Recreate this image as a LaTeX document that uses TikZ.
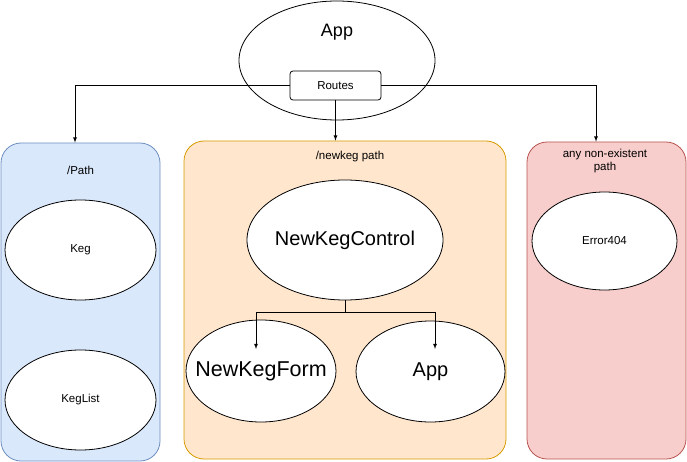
\documentclass[tikz,border=0pt]{standalone}
\usepackage{fontspec}
\setmainfont{Liberation Sans}
\usetikzlibrary{arrows,shapes.geometric,positioning}

\definecolor{blueFill}{HTML}{DAE8FC}
\definecolor{blueLine}{HTML}{6C8EBF}
\definecolor{orangeFill}{HTML}{FFE6CC}
\definecolor{orangeLine}{HTML}{D79B00}
\definecolor{redFill}{HTML}{F8CECC}
\definecolor{redLine}{HTML}{B85450}

\tikzset{
  blob/.style={draw, ellipse, fill=white, inner sep=0pt},
  panel/.style={rounded corners=20pt, inner sep=0pt},
  small/.style={font=\fontsize{11.5}{13.5}\selectfont},
  big/.style={font=\fontsize{20}{24}\selectfont}
}

\begin{document}
\begin{tikzpicture}[x=1pt,y=-1pt,line width=0.8pt]
\useasboundingbox (0,0) rectangle (687,462);

% the three route panels
\node[panel, draw=blueLine, fill=blueFill, minimum width=159, minimum height=318] (pathbox) at (80.5,302) {};
\node[panel, draw=orangeLine, fill=orangeFill, minimum width=322, minimum height=318] (newkegbox) at (345,300) {};
\node[panel, draw=redLine, fill=redFill, minimum width=159, minimum height=317] (errbox) at (606.5,300.5) {};

\node[small] (pathtitle) at (80.5,170) {/Path};
\node[small] (newkegtitle) at (350,157) {/newkeg path};
\node[small, align=center] (errtitle) at (605,161) {any non-existent\\path};

% App with its Routes
\node[blob, minimum width=196, minimum height=119] (app) at (337,60.5) {};
\node[font=\fontsize{18}{22}\selectfont] (apptitle) at (337,32) {App};
\node[draw, fill=white, rounded corners=3pt, minimum width=91, minimum height=29, small] (routes) at (335.5,85.5) {Routes};

\draw[-latex] (routes.west) -| ([xshift=-5.5pt]pathbox.north);
\draw[-latex] (routes.east) -| ([xshift=-10.5pt]errbox.north);
\draw[-latex] (routes.south) -- (routes.south |- newkegbox.north);

% left column
\node[blob, small, minimum width=151, minimum height=100] (keg) at (80.5,250) {Keg};
\node[blob, small, minimum width=151, minimum height=100] (keglist) at (80.5,400) {KegList};

% middle column
\node[blob, big, minimum width=196, minimum height=120] (control) at (345,240) {\makebox[0pt]{NewKegControl}};
\node[blob, font=\fontsize{21.5}{24}\selectfont, minimum width=150, minimum height=102] (form) at (261,371) {\makebox[0pt]{NewKegForm}};
\node[blob, big, minimum width=149, minimum height=101] (innerapp) at (430.5,371.5) {App};

\draw (control.south) -- ++(0,12) coordinate (split);
\draw[-latex] (split) -| ([shift={(-5,-22)}]form.center);
\draw[-latex] (split) -| ([shift={(4.5,-22.5)}]innerapp.center);

% right column
\node[blob, small, minimum width=145, minimum height=98] (error) at (604.5,241) {Error404};

\end{tikzpicture}
\end{document}
